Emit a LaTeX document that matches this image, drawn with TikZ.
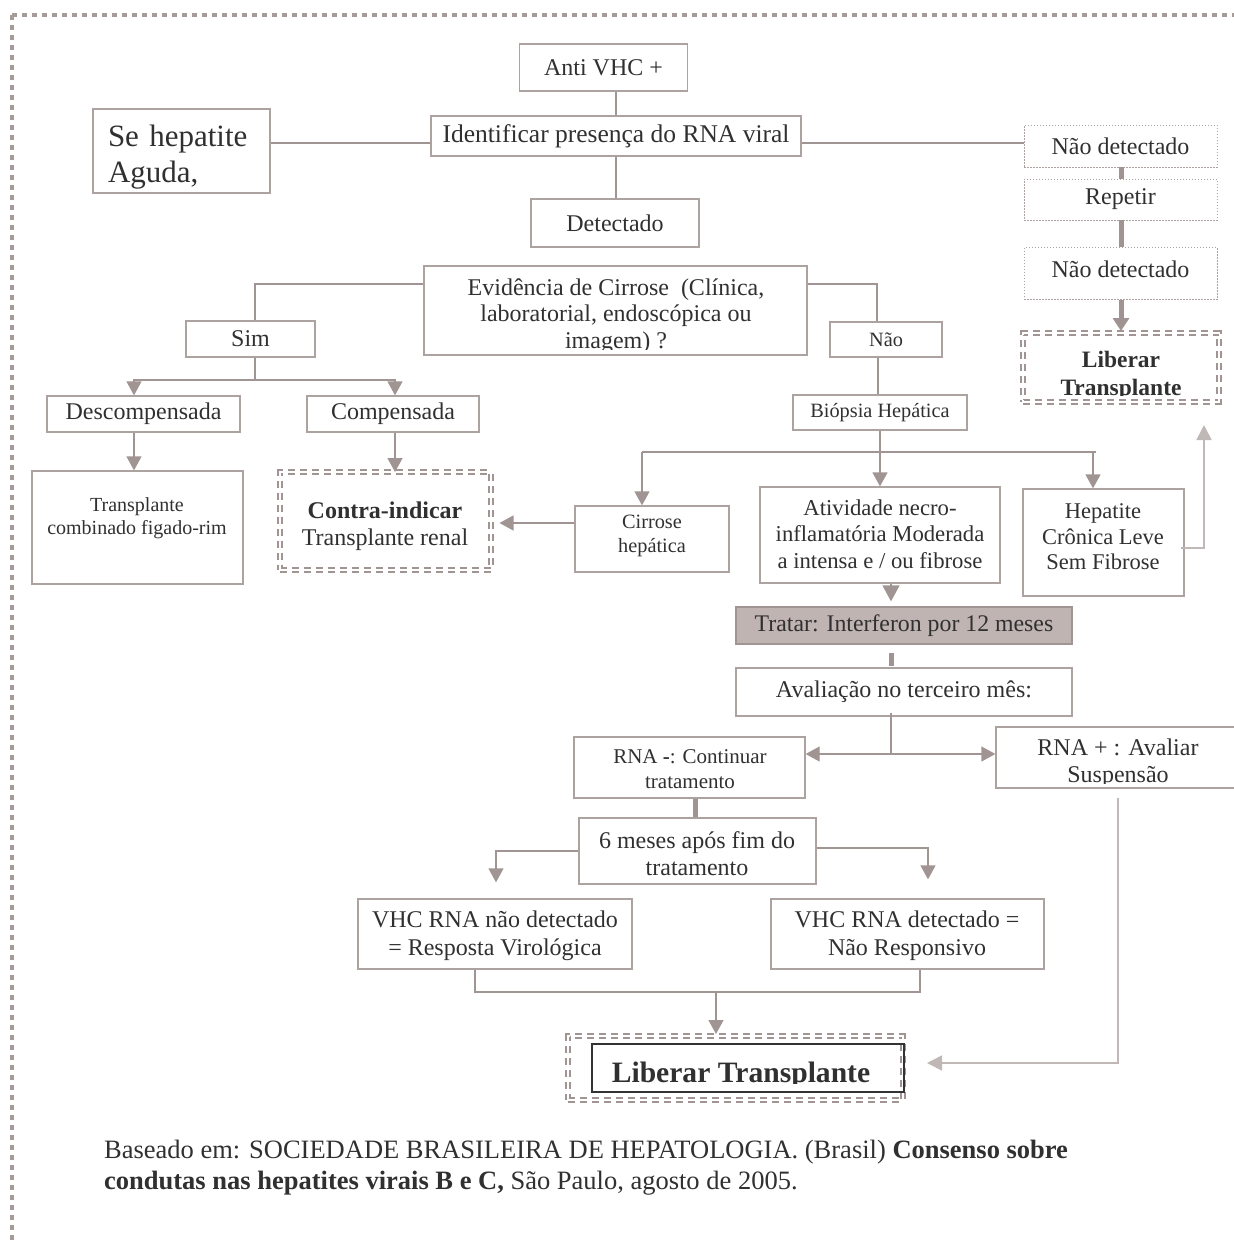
\documentclass[tikz,border=0pt]{standalone}
\usepackage{fontspec}
\setmainfont{Liberation Serif}
\usetikzlibrary{arrows.meta}
\definecolor{boxc}{RGB}{172,162,160}
\definecolor{arrc}{RGB}{160,149,147}
\definecolor{lightc}{RGB}{192,184,182}
\definecolor{txt}{RGB}{48,48,48}
\definecolor{fillc}{RGB}{192,180,178}
\definecolor{thickc}{RGB}{160,148,146}
\definecolor{bordc}{RGB}{165,155,153}
\newcommand\myfs[2]{\fontsize{#1}{#2}\selectfont}
\begin{document}
\begin{tikzpicture}[x=1pt,y=-1pt,
  box/.style={draw=boxc, line width=1.3pt, inner sep=0pt, text=txt, align=center},
  dotbox/.style={draw=boxc, line width=0.8pt, dash pattern=on 1.5pt off 1.5pt, inner sep=0pt, text=txt, align=center},
  dbox/.style={draw=arrc, line width=2pt, double=white, double distance=2pt, dash pattern=on 7pt off 5pt, inner sep=0pt},
  txtnode/.style={inner sep=0pt, text=txt, align=center},
  conn/.style={draw=arrc, line width=1.3pt},
  arr/.style={conn, -{Triangle[width=15pt,length=14pt]}},
  thick/.style={draw=thickc, line width=5pt},
  thickarr/.style={draw=thickc, line width=5pt, -{Triangle[width=16pt,length=13pt]}},
  lightarr/.style={draw=lightc, line width=1.6pt, -{Triangle[width=15pt,length=15pt]}},
  fbig/.style={font=\myfs{24}{27}},
  fsmall/.style={font=\myfs{20.3}{24}}
]
\useasboundingbox (0,0) rectangle (1234,1243);
% outer dotted frame
\draw[bordc, line width=4.5pt, dash pattern=on 4.5pt off 5.5pt] (12,15) -- (12,1243);
\draw[bordc, line width=4.5pt, dash pattern=on 4.5pt off 5.5pt] (12,15) -- (1234,15);

% top column
\node[box, fbig, minimum width=168, minimum height=47] (anti) at (603.5,67.5) {Anti VHC +};
\node[box, font=\myfs{25.5}{28}, minimum width=370, minimum height=40] (ident) at (616,136) {Identificar presença do RNA viral};
\node[box, minimum width=177, minimum height=84] (aguda) at (181.5,151) {};
\node[txtnode, text width=147, align=left, font=\myfs{31}{36}] (agudatxt) at (181.5,157) {Se hepatite\\Aguda,};
\node[box, fbig, minimum width=168, minimum height=48] (det) at (615,223) {Detectado};

\node[box, minimum width=383, minimum height=89] (ev) at (615.5,310.5) {};
\begin{scope}
\clip (425,267) rectangle (806,349);
\node[txtnode, font=\myfs{24}{26.5}] (evtxt) at (616,316) {Evidência de Cirrose\ \ (Clínica,\\laboratorial, endoscópica ou\\imagem) ?};
\end{scope}

% left branch
\node[box, fbig, minimum width=129, minimum height=36] (sim) at (250.5,339) {Sim};
\node[box, fbig, minimum width=193, minimum height=36] (desc) at (143.5,414) {Descompensada};
\node[box, fbig, minimum width=172, minimum height=36] (comp) at (393,414) {Compensada};
\node[box, minimum width=211, minimum height=113] (tcomb) at (137.5,527.5) {};
\node[txtnode, font=\myfs{20}{23.5}] (tcombtxt) at (137,518) {Transplante\\combinado figado-rim};
\node[dbox, minimum width=211, minimum height=97.5] (contra) at (385,520.75) {};
\node[txtnode, fbig] (contratxt) at (385,526) {\textbf{Contra-indicar}\\Transplante renal};

% right branch
\node[box, fsmall, minimum width=112, minimum height=35] (nao) at (886,339.5) {Não};
\node[box, fsmall, minimum width=174, minimum height=35] (biop) at (880,412.5) {Biópsia Hepática};
\node[box, minimum width=154, minimum height=66] (cirr) at (652,539) {};
\node[txtnode, fsmall] (cirrtxt) at (652,536) {Cirrose\\hepática};
\node[box, minimum width=240, minimum height=96] (ativ) at (880,535) {};
\node[txtnode, font=\myfs{22.7}{26.5}] (ativtxt) at (880,534) {Atividade necro-\\inflamatória Moderada\\a intensa e / ou fibrose};
\node[box, minimum width=161, minimum height=107] (hep) at (1103.5,542.5) {};
\node[txtnode, font=\myfs{22.5}{25.5}] (heptxt) at (1103,537) {Hepatite\\Crônica Leve\\Sem Fibrose};

\node[box, fill=fillc, draw=arrc, font=\myfs{23.8}{26}, minimum width=336, minimum height=37] (trat) at (904,625.5) {Tratar: Interferon por 12 meses};
\node[box, font=\myfs{24}{26}, minimum width=336, minimum height=48] (aval) at (904,692) {Avaliação no terceiro mês:};

\node[box, minimum width=231, minimum height=61] (rnam) at (689.5,767.5) {};
\node[txtnode, font=\myfs{21}{25}] (rnamtxt) at (690,769) {RNA \textbf{-}: Continuar\\tratamento};
\node[box, minimum width=244, minimum height=61] (rnap) at (1118,757.5) {};
\begin{scope}
\clip (997,728) rectangle (1240,783);
\node[txtnode, font=\myfs{24}{27}] (rnaptxt) at (1118,763) {RNA + : Avaliar\\Suspensão};
\end{scope}

\node[box, minimum width=237, minimum height=66] (six) at (697.5,851) {};
\node[txtnode, fbig] (sixtxt) at (697,854) {6 meses após fim do\\tratamento};
\node[box, minimum width=274, minimum height=70] (vhcn) at (495,934) {};
\node[txtnode, font=\myfs{24}{28}] (vhcntxt) at (495,936) {VHC RNA não detectado\\= Resposta Virológica};
\node[box, minimum width=273, minimum height=70] (vhcd) at (907.5,934) {};
\node[txtnode, font=\myfs{24}{28}] (vhcdtxt) at (907,936) {VHC RNA detectado =\\Não Responsivo};

\node[dbox, minimum width=335, minimum height=64] (lib) at (735.5,1068) {};
\node[draw=black!80, line width=2pt, inner sep=0pt, minimum width=312, minimum height=48] (libin) at (748,1068) {};
\begin{scope}
\clip (594,1046) rectangle (902,1083.5);
\node[txtnode, anchor=base, font=\myfs{29.6}{33}] (libtxt) at (741,1082) {\textbf{Liberar Transplante}};
\end{scope}

% top right chain
\node[dotbox, fbig, minimum width=193, minimum height=42] (nd1) at (1120.5,146) {Não detectado};
\node[dotbox, fbig, minimum width=193, minimum height=41] (rep) at (1120.5,199.5) {Repetir};
\node[dotbox, minimum width=193, minimum height=52] (nd2) at (1120.5,273.5) {};
\node[txtnode, fbig] (nd2txt) at (1120.5,269.5) {Não detectado};
\node[dbox, minimum width=196, minimum height=69] (lib1) at (1121,367.5) {};
\begin{scope}
\clip (1025,336) rectangle (1217,395.5);
\node[txtnode, font=\myfs{23.5}{28}] (lib1txt) at (1121,375.5) {\textbf{Liberar}\\\textbf{Transplante}};
\end{scope}

% footer
\node[txtnode, anchor=north west, align=left, font=\myfs{26.5}{31}] (foot) at (104,1139.5)
 {Baseado em: SOCIEDADE BRASILEIRA DE HEPATOLOGIA. (Brasil) \textbf{Consenso sobre}\\\textbf{condutas nas hepatites virais B e C,} São Paulo, agosto de 2005.};

% ---------- connectors ----------
\draw[conn] (anti.south -| 616,0) -- (ident.north -| 616,0);
\draw[conn] (ident.south -| 616,0) -- (det.north -| 616,0);
\draw[conn] (aguda.east |- 0,143) -- (ident.west |- 0,143);
\draw[conn] (ident.east |- 0,143) -- (nd1.west |- 0,143);

\draw[conn] (ev.west |- 0,284) -| (sim.north -| 255,0);
\draw[conn] (sim.south -| 255,0) -- (255,380);
\draw[arr] (255,380) -| (desc.north -| 134,0);
\draw[arr] (255,380) -| (comp.north -| 395,0);
\draw[arr] (desc.south -| 134,0) -- (tcomb.north -| 134,0);
\draw[arr] (comp.south -| 395,0) -- ([yshift=-1pt]contra.north -| 395,0);

\draw[conn] (ev.east |- 0,284) -| (nao.north -| 877,0);
\draw[conn] (nao.south -| 878,0) -- (biop.north -| 878,0);
\draw[conn] (642,452) -- (1096,452);
\draw[arr] (biop.south -| 880,0) -- (ativ.north -| 880,0);
\draw[arr] (642,452) -- (cirr.north -| 642,0);
\draw[arr] (1093,452) -- (hep.north -| 1093,0);
\draw[arr, shorten >=8pt] (cirr.west |- 0,523) -- (contra.east |- 0,523);
\draw[lightarr, shorten >=22pt] ([xshift=-4pt]hep.east |- 0,548) -| (lib1.south -| 1204,0);

\draw[arr, -{Triangle[width=17pt,length=16pt]}, shorten >=5pt] (ativ.south -| 891,0) -- (trat.north -| 891,0);
\draw[thick, shorten <=8pt, shorten >=1pt] (trat.south -| 891,0) -- (aval.north -| 891,0);
\draw[conn] ([yshift=4pt]aval.south -| 891,0) -- (891,754);
\draw[arr] (891,754) -- (rnam.east |- 0,754);
\draw[arr] (891,754) -- (rnap.west |- 0,754);
\draw[thick] (rnam.south -| 695,0) -- (six.north -| 695,0);
\draw[arr, shorten >=16pt] (six.west |- 0,851) -| (vhcn.north -| 496,0);
\draw[arr, shorten >=19pt] (six.east |- 0,848) -| (vhcd.north -| 928,0);
\draw[conn] (vhcn.south -| 475,0) |- (920,992) -- (vhcd.south -| 920,0);
\draw[arr, shorten >=1pt] (716,992) -- (lib.north -| 716,0);
\draw[lightarr, shorten <=9pt, shorten >=23pt] (rnap.south -| 1118,0) |- (lib.east |- 0,1063);

\draw[thick] (nd1.south -| 1121,0) -- (rep.north -| 1121,0);
\draw[thick] (rep.south -| 1121,0) -- (nd2.north -| 1121,0);
\draw[thickarr, shorten >=1pt] (nd2.south -| 1121,0) -- (lib1.north -| 1121,0);
\end{tikzpicture}
\end{document}
